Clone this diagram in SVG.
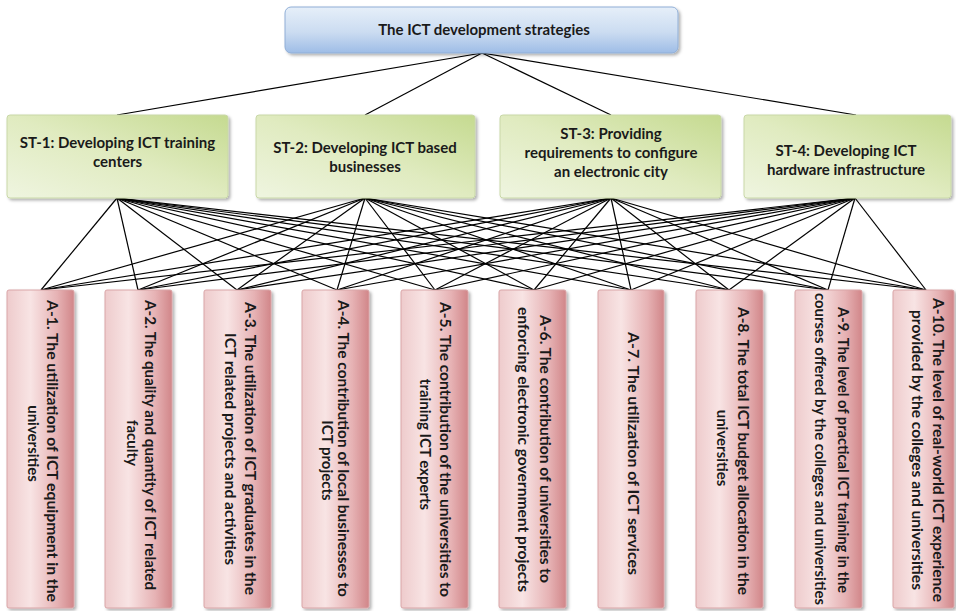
<svg xmlns="http://www.w3.org/2000/svg" width="956" height="611" viewBox="0 0 956 611">
<defs>
<linearGradient id="gBlue" x1="0" y1="0" x2="0" y2="1">
<stop offset="0" stop-color="#e6eff9"/>
<stop offset="0.55" stop-color="#cbdcf1"/>
<stop offset="1" stop-color="#9ebde6"/>
</linearGradient>
<linearGradient id="gGreen" x1="0" y1="1" x2="1" y2="0">
<stop offset="0" stop-color="#eff5e0"/>
<stop offset="0.5" stop-color="#e0ebc0"/>
<stop offset="1" stop-color="#c5da90"/>
</linearGradient>
<linearGradient id="gRed" x1="0" y1="0" x2="1" y2="0">
<stop offset="0" stop-color="#eecbcc"/>
<stop offset="0.35" stop-color="#f8e4e4"/>
<stop offset="0.75" stop-color="#e6b2b4"/>
<stop offset="1" stop-color="#d18689"/>
</linearGradient>
<filter id="sh" x="-10%" y="-10%" width="130%" height="130%">
<feDropShadow dx="2" dy="2" stdDeviation="1.5" flood-color="#000" flood-opacity="0.3"/>
</filter>
</defs>
<style>
.top{fill:url(#gBlue);stroke:#90aed6;stroke-width:1;filter:url(#sh)}
.st{fill:url(#gGreen);stroke:#c9d8a8;stroke-width:1;filter:url(#sh)}
.a{fill:url(#gRed);stroke:#d9a5a7;stroke-width:1;filter:url(#sh)}
.t{font-family:Lato,"Liberation Sans",sans-serif;font-weight:bold;fill:#1a1a1a;text-anchor:middle}
.t15{font-size:15px}
.c line{stroke:#000;stroke-width:1.2}
</style>
<rect x="0" y="0" width="956" height="611" fill="#fff"/>
<g id="connectors" class="c">
<line x1="482" y1="53" x2="117" y2="115"/>
<line x1="482" y1="53" x2="365" y2="115"/>
<line x1="482" y1="53" x2="611" y2="115"/>
<line x1="482" y1="53" x2="856" y2="115"/>
<line x1="117" y1="198" x2="41" y2="290"/><line x1="117" y1="198" x2="138" y2="290"/><line x1="117" y1="198" x2="237" y2="290"/><line x1="117" y1="198" x2="337" y2="290"/><line x1="117" y1="198" x2="435" y2="290"/><line x1="117" y1="198" x2="534" y2="290"/><line x1="117" y1="198" x2="631" y2="290"/><line x1="117" y1="198" x2="729" y2="290"/><line x1="117" y1="198" x2="828" y2="290"/><line x1="117" y1="198" x2="926" y2="290"/>
<line x1="365" y1="198" x2="41" y2="290"/><line x1="365" y1="198" x2="138" y2="290"/><line x1="365" y1="198" x2="237" y2="290"/><line x1="365" y1="198" x2="337" y2="290"/><line x1="365" y1="198" x2="435" y2="290"/><line x1="365" y1="198" x2="534" y2="290"/><line x1="365" y1="198" x2="631" y2="290"/><line x1="365" y1="198" x2="729" y2="290"/><line x1="365" y1="198" x2="828" y2="290"/><line x1="365" y1="198" x2="926" y2="290"/>
<line x1="611" y1="198" x2="41" y2="290"/><line x1="611" y1="198" x2="138" y2="290"/><line x1="611" y1="198" x2="237" y2="290"/><line x1="611" y1="198" x2="337" y2="290"/><line x1="611" y1="198" x2="435" y2="290"/><line x1="611" y1="198" x2="534" y2="290"/><line x1="611" y1="198" x2="631" y2="290"/><line x1="611" y1="198" x2="729" y2="290"/><line x1="611" y1="198" x2="828" y2="290"/><line x1="611" y1="198" x2="926" y2="290"/>
<line x1="855" y1="198" x2="41" y2="290"/><line x1="855" y1="198" x2="138" y2="290"/><line x1="855" y1="198" x2="237" y2="290"/><line x1="855" y1="198" x2="337" y2="290"/><line x1="855" y1="198" x2="435" y2="290"/><line x1="855" y1="198" x2="534" y2="290"/><line x1="855" y1="198" x2="631" y2="290"/><line x1="855" y1="198" x2="729" y2="290"/><line x1="855" y1="198" x2="828" y2="290"/><line x1="855" y1="198" x2="926" y2="290"/>
</g>
<g id="root">
<rect class="top" x="285" y="7" width="393" height="46" rx="6"/>
<text class="t t15" x="484" y="35">The ICT development strategies</text>
</g>
<g id="st1">
<rect class="st" x="7" y="115" width="221" height="83" rx="3"/>
<text class="t t15" x="117.5" y="148">ST-1: Developing ICT training</text>
<text class="t t15" x="117.5" y="167">centers</text>
</g>
<g id="st2">
<rect class="st" x="256" y="115" width="219" height="83" rx="3"/>
<text class="t t15" x="365" y="153">ST-2: Developing ICT based</text>
<text class="t t15" x="365" y="172">businesses</text>
</g>
<g id="st3">
<rect class="st" x="500" y="115" width="221" height="83" rx="3"/>
<text class="t t15" x="611" y="139">ST-3: Providing</text>
<text class="t t15" x="611" y="158">requirements to configure</text>
<text class="t t15" x="611" y="177">an electronic city</text>
</g>
<g id="st4">
<rect class="st" x="744" y="115" width="207" height="83" rx="3"/>
<text class="t t15" x="846" y="156">ST-4: Developing ICT</text>
<text class="t t15" x="846" y="175">hardware infrastructure</text>
</g>
<g id="a1">
<rect class="a" x="7" y="290" width="67" height="318" rx="2"/>
<text class="t t15" transform="translate(46.5,451) rotate(90)" textLength="302" lengthAdjust="spacingAndGlyphs">A-1. The utilization of ICT equipment in the</text>
<text class="t t15" transform="translate(27.5,443.5) rotate(90)">universities</text>
</g>
<g id="a2">
<rect class="a" x="105" y="290" width="67" height="318" rx="2"/>
<text class="t t15" transform="translate(144.5,445) rotate(90)" textLength="290" lengthAdjust="spacingAndGlyphs">A-2. The quality and quantity of ICT related</text>
<text class="t t15" transform="translate(126.5,443) rotate(90)">faculty</text>
</g>
<g id="a3">
<rect class="a" x="204" y="290" width="67" height="318" rx="2"/>
<text class="t t15" transform="translate(244.5,448.5) rotate(90)" textLength="293" lengthAdjust="spacingAndGlyphs">A-3. The utilization of ICT graduates in the</text>
<text class="t t15" transform="translate(224.5,449) rotate(90)" textLength="232" lengthAdjust="spacingAndGlyphs">ICT related projects and activities</text>
</g>
<g id="a4">
<rect class="a" x="302" y="290" width="67" height="318" rx="2"/>
<text class="t t15" transform="translate(337.5,448.5) rotate(90)" textLength="297" lengthAdjust="spacingAndGlyphs">A-4. The contribution of local businesses to</text>
<text class="t t15" transform="translate(321.5,460.5) rotate(90)">ICT projects</text>
</g>
<g id="a5">
<rect class="a" x="401" y="290" width="67" height="318" rx="2"/>
<text class="t t15" transform="translate(439.5,449.5) rotate(90)" textLength="295" lengthAdjust="spacingAndGlyphs">A-5. The contribution of the universities to</text>
<text class="t t15" transform="translate(419.5,444.5) rotate(90)">training ICT experts</text>
</g>
<g id="a6">
<rect class="a" x="499" y="290" width="67" height="318" rx="2"/>
<text class="t t15" transform="translate(539.5,449) rotate(90)" textLength="268" lengthAdjust="spacingAndGlyphs">A-6. The contribution of universities to</text>
<text class="t t15" transform="translate(517.5,449.5) rotate(90)" textLength="285" lengthAdjust="spacingAndGlyphs">enforcing electronic government projects</text>
</g>
<g id="a7">
<rect class="a" x="598" y="290" width="66" height="318" rx="2"/>
<text class="t t15" transform="translate(627.5,453.5) rotate(90)" textLength="243" lengthAdjust="spacingAndGlyphs">A-7. The utilization of ICT services</text>
</g>
<g id="a8">
<rect class="a" x="696" y="290" width="67" height="318" rx="2"/>
<text class="t t15" transform="translate(737.5,451) rotate(90)" textLength="288" lengthAdjust="spacingAndGlyphs">A-8. The total ICT budget allocation in the</text>
<text class="t t15" transform="translate(716.5,448) rotate(90)">universities</text>
</g>
<g id="a9">
<rect class="a" x="795" y="290" width="67" height="318" rx="2"/>
<text class="t t15" transform="translate(837.5,450) rotate(90)" textLength="286" lengthAdjust="spacingAndGlyphs">A-9. The level of practical ICT training in the</text>
<text class="t t15" transform="translate(814.5,449) rotate(90)" textLength="312" lengthAdjust="spacingAndGlyphs">courses offered by the colleges and universities</text>
</g>
<g id="a10">
<rect class="a" x="893" y="290" width="61" height="318" rx="2"/>
<text class="t t15" transform="translate(932.5,450) rotate(90)" textLength="304" lengthAdjust="spacingAndGlyphs">A-10. The level of real-world ICT experience</text>
<text class="t t15" transform="translate(911.5,450) rotate(90)" textLength="280" lengthAdjust="spacingAndGlyphs">provided by the colleges and universities</text>
</g>
</svg>
